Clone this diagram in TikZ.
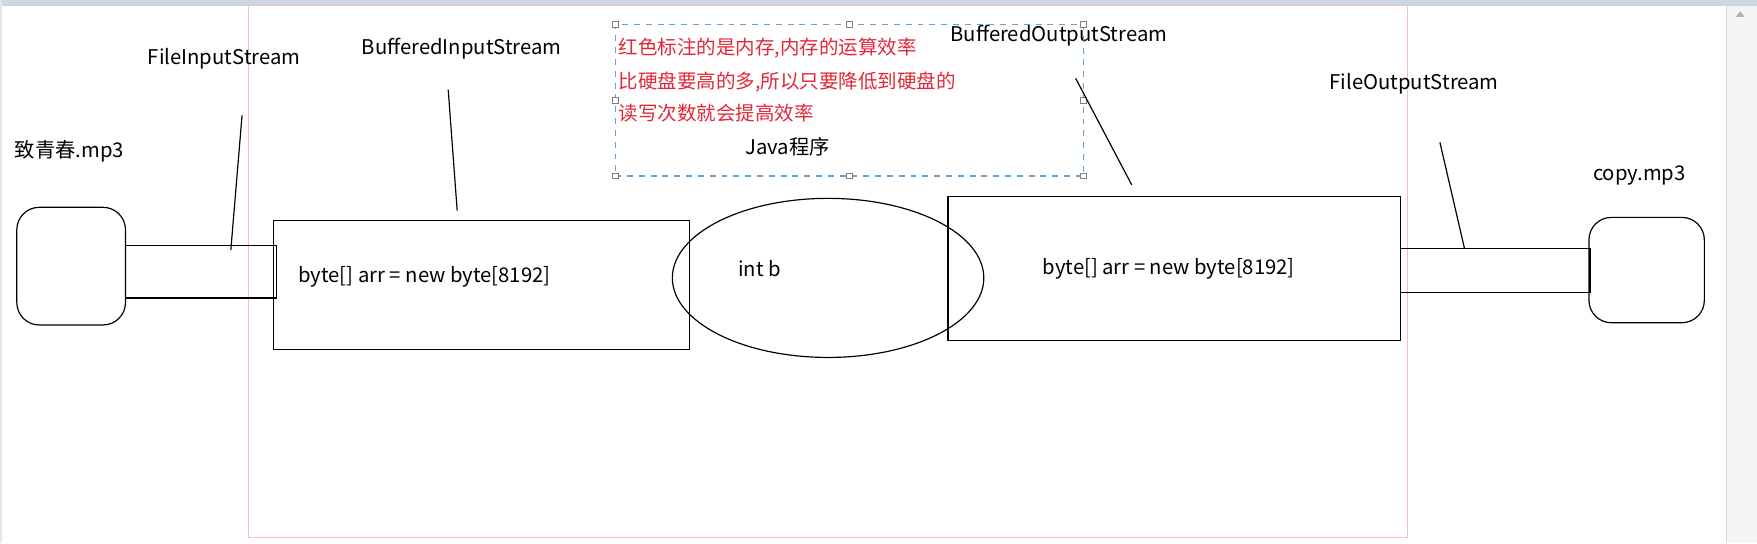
\documentclass[tikz,border=0pt]{standalone}
\usepackage{fontspec}
\setmainfont{Noto Sans CJK SC}
\usepackage{tikz}
\usetikzlibrary{shapes.geometric}
\definecolor{notered}{RGB}{225,40,55}
\definecolor{selblue}{RGB}{95,165,220}
\definecolor{pinkframe}{RGB}{240,190,205}
\definecolor{barcol}{RGB}{205,214,228}

\begin{document}
\begin{tikzpicture}[x=0.02cm, y=-0.02cm, line width=0.6pt,
	box/.style = {shape=rectangle, draw, inner sep=0pt, outer sep=0pt},
	filebox/.style = {box, rounded corners=0.4cm},
	label/.style = {font=\fontsize{10.3}{12}\selectfont},
	redline/.style = {anchor=west, inner sep=1pt, text=notered, font=\fontsize{9.9}{12}\selectfont},
	handle/.style = {shape=rectangle, draw=gray, fill=white, line width=0.4pt, minimum size=0.1cm, inner sep=0pt}]
	\useasboundingbox (0,0) rectangle (1568,485);
	\fill[white] (0,0) rectangle (1568,485);
	% window bits
	\fill[barcol] (0,0) rectangle (1568,5);
	\fill[barcol!60] (0,0) rectangle (2,485);
	\fill[gray!8] (1541,5) rectangle (1568,485);
	\draw[gray!30, line width=0.4pt] (1541,5) -- (1541,485);
	\fill[gray!60] (1549,15) -- (1557,15) -- (1553,10) -- cycle;
	% java program frame
	\draw[pinkframe, line width=0.5pt] (222,5) rectangle (1256,480);
	% source side
	\node[filebox, minimum width=1.94cm, minimum height=2.1cm] (src) at (63.5,237.5) {};
	\node[label] (srcname) at (62,135) {致青春.mp3};
	\node[box, minimum width=2.7cm, minimum height=0.94cm] (inpipe) at (179.5,242.5) {};
	\node[label] (fis) at (200,52) {FileInputStream};
	\node[box, minimum width=7.42cm, minimum height=2.3cm] (bis) at (429.5,254.5) {};
	\node[label, anchor=west, inner sep=1pt] (bisarr) at (264,247) {byte[] arr = new byte[8192]};
	\node[label] (bisname) at (412,43) {BufferedInputStream};
	% int b
	\node[ellipse, draw, inner sep=0pt, minimum width=5.56cm, minimum height=2.84cm] (intb) at (739,248) {};
	\node[label] (intbtext) at (678,240) {int b};
	% target side
	\node[box, minimum width=8.08cm, minimum height=2.58cm] (bos) at (1048,239.5) {};
	\node[label] (bosarr) at (1043,240) {byte[] arr = new byte[8192]};
	\node[label] (bosname) at (945,32) {BufferedOutputStream};
	\node[box, minimum width=3.38cm, minimum height=0.78cm] (outpipe) at (1334.5,241.5) {};
	\node[label] (fos) at (1262,75) {FileOutputStream};
	\node[filebox, minimum width=2.06cm, minimum height=1.88cm] (dst) at (1469.5,241) {};
	\node[label] (dstname) at (1463,157) {copy.mp3};
	% note box
	\node[box, draw=selblue, dashed, minimum width=8.36cm, minimum height=2.7cm] (note) at (758,89.5) {};
	\foreach \a in {north west, north, north east, east, south east, south, south west, west}
		\node[handle] at (note.\a) {};
	\node[redline] (l1) at (550,43) {红色标注的是内存,内存的运算效率};
	\node[redline] (l2) at (550,73) {比硬盘要高的多,所以只要降低到硬盘的};
	\node[redline] (l3) at (550,101) {读写次数就会提高效率};
	\node[label] (java) at (703,131) {Java程序};
	% leaders
	\coordinate (fis a) at (216,103);
	\coordinate (fis b) at (206,223);
	\coordinate (bis a) at (400,80);
	\coordinate (bis b) at (408,188);
	\coordinate (bos a) at (960,70);
	\coordinate (bos b) at (1010,165);
	\coordinate (fos a) at (1285,127);
	\coordinate (fos b) at (1307,222);
	\draw (fis a) -- (fis b);
	\draw (bis a) -- (bis b);
	\draw (bos a) -- (bos b);
	\draw (fos a) -- (fos b);
\end{tikzpicture}
\end{document}
